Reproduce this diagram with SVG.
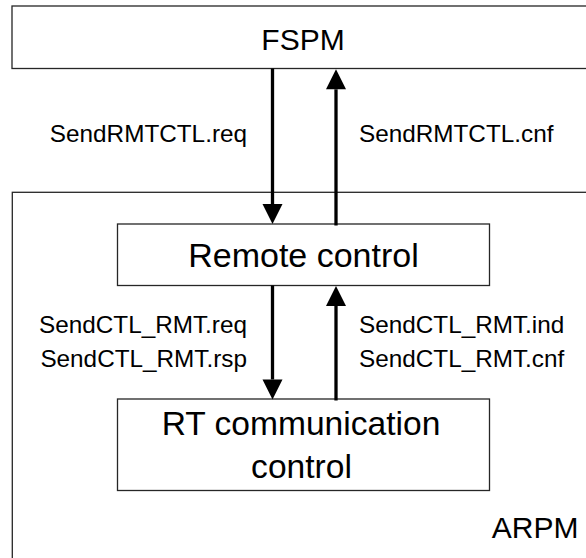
<svg xmlns="http://www.w3.org/2000/svg" width="586" height="558" viewBox="0 0 586 558">
  <style>
    .box { fill: #ffffff; stroke: #262626; stroke-width: 1.3; }
    .big { font-family: "Liberation Sans", Arial, sans-serif; fill: #000000; }
    .lbl { font-family: "Liberation Sans", Arial, sans-serif; font-size: 24.3px; fill: #000000; }
    .conn { fill: none; stroke: #000000; stroke-width: 3.3; }
  </style>
  <defs>
    <marker id="ah" markerUnits="userSpaceOnUse" markerWidth="22" markerHeight="22" viewBox="0 -11 22 22" refX="0" refY="0" orient="auto" overflow="visible">
      <path d="M0,-10 L20,0 L0,10 z" fill="#000000"/>
    </marker>
  </defs>
  <rect width="586" height="558" fill="#ffffff"/>

  <g id="fspm">
    <rect class="box" x="12" y="6" width="600" height="62.5"/>
    <text class="big" x="303" y="50" font-size="30" text-anchor="middle">FSPM</text>
  </g>

  <g id="arpm">
    <rect class="box" x="12.3" y="192.3" width="600" height="400"/>
    <text class="big" x="578.5" y="537.7" font-size="30" text-anchor="end">ARPM</text>
  </g>

  <g id="remote-control">
    <rect class="box" x="117.5" y="224" width="372" height="61.5"/>
    <text class="big" x="303.5" y="266.7" font-size="34" text-anchor="middle">Remote control</text>
  </g>

  <g id="rt-communication-control">
    <rect class="box" x="117.5" y="399" width="372" height="91.5"/>
    <text class="big" x="301" y="434.5" font-size="33.6" text-anchor="middle">RT communication</text>
    <text class="big" x="301.5" y="478.3" font-size="33.6" text-anchor="middle">control</text>
  </g>

  <g id="connectors">
    <path class="conn" d="M272.5,68.5 V204" marker-end="url(#ah)"/>
    <path class="conn" d="M336,225.5 V89.3" marker-end="url(#ah)"/>
    <path class="conn" d="M272.5,285.5 V379.5" marker-end="url(#ah)"/>
    <path class="conn" d="M336,400.5 V306" marker-end="url(#ah)"/>
    <text class="lbl" x="247" y="142.3" text-anchor="end">SendRMTCTL.req</text>
    <text class="lbl" x="359" y="142.3">SendRMTCTL.cnf</text>
    <text class="lbl" x="247" y="332.7" text-anchor="end">SendCTL_RMT.req</text>
    <text class="lbl" x="247" y="367.3" text-anchor="end">SendCTL_RMT.rsp</text>
    <text class="lbl" x="359" y="332.7">SendCTL_RMT.ind</text>
    <text class="lbl" x="359" y="367.3">SendCTL_RMT.cnf</text>
  </g>
</svg>
